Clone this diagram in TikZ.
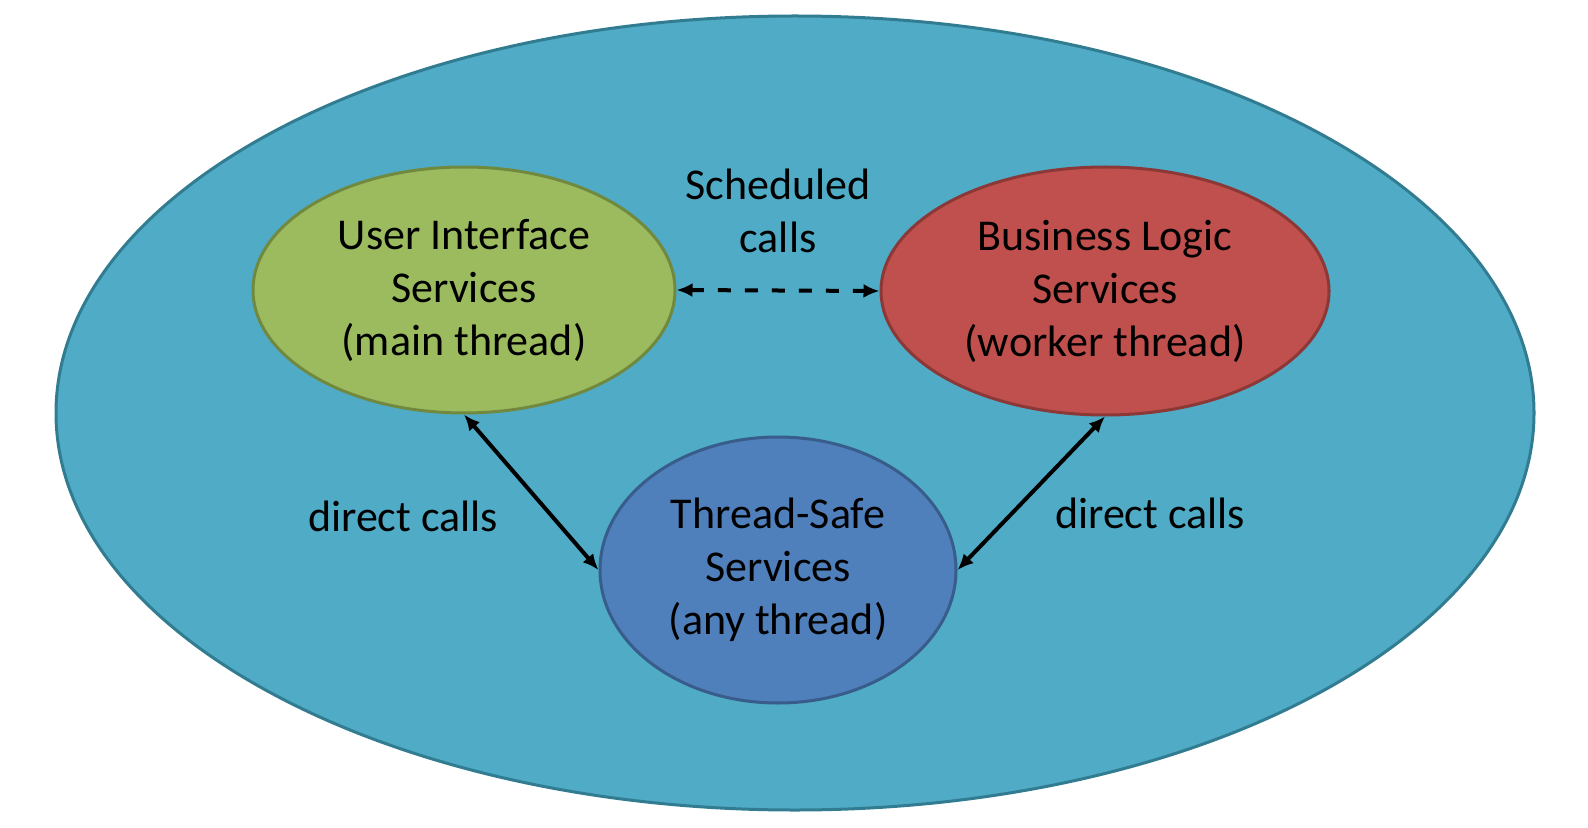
\documentclass[tikz,border=0pt]{standalone}
\usepackage{fontspec}
\setmainfont{Carlito}
\usetikzlibrary{arrows.meta, positioning, shapes.geometric}

\definecolor{poolfill}{HTML}{4FABC6}
\definecolor{pooldraw}{HTML}{327C91}
\definecolor{uifill}{HTML}{9BBB5E}
\definecolor{uidraw}{HTML}{71893F}
\definecolor{blfill}{HTML}{C0504D}
\definecolor{bldraw}{HTML}{8C3836}
\definecolor{tsfill}{HTML}{4F80BC}
\definecolor{tsdraw}{HTML}{385D8A}

\begin{document}
\begin{tikzpicture}[x=0.5pt, y=-0.5pt,
    svc/.style={ellipse, line width=1.5pt, inner sep=0pt, align=center,
        font=\fontsize{22}{26.5}\selectfont},
    lbl/.style={align=center, font=\fontsize{22}{26.5}\selectfont},
    link/.style={line width=2pt, {Latex[length=8pt,width=7pt]}-{Latex[length=8pt,width=7pt]}}]
    \useasboundingbox (0,0) rectangle (1588,828);

    % Process boundary
    \draw[fill=poolfill, draw=pooldraw, line width=1.5pt] (795,413) ellipse (369.5pt and 198.5pt);

    % Services
    \node[svc, fill=uifill, draw=uidraw, minimum width=211pt, minimum height=123pt]
        (ui) at (464,290) {User Interface\\Services\\(main thread)};
    \node[svc, fill=blfill, draw=bldraw, minimum width=224pt, minimum height=124pt]
        (bl) at (1105,291) {Business Logic\\Services\\(worker thread)};
    \node[svc, fill=tsfill, draw=tsdraw, minimum width=178pt, minimum height=133pt]
        (ts) at (778,570) {Thread-Safe\\Services\\(any thread)};

    % Calls
    \draw[link, dash pattern=on 6.5pt off 7pt] (ui.east) -- (bl.west);
    \draw[link] (ui.south) -- (ts.west);
    \draw[link] (bl.south) -- (ts.east);

    % Labels
    \node[lbl] (sched) at (778,211) {Scheduled\\calls};
    \node[lbl] (dcl) at (403,516) {direct calls};
    \node[lbl] (dcr) at (1150,513) {direct calls};
\end{tikzpicture}
\end{document}
